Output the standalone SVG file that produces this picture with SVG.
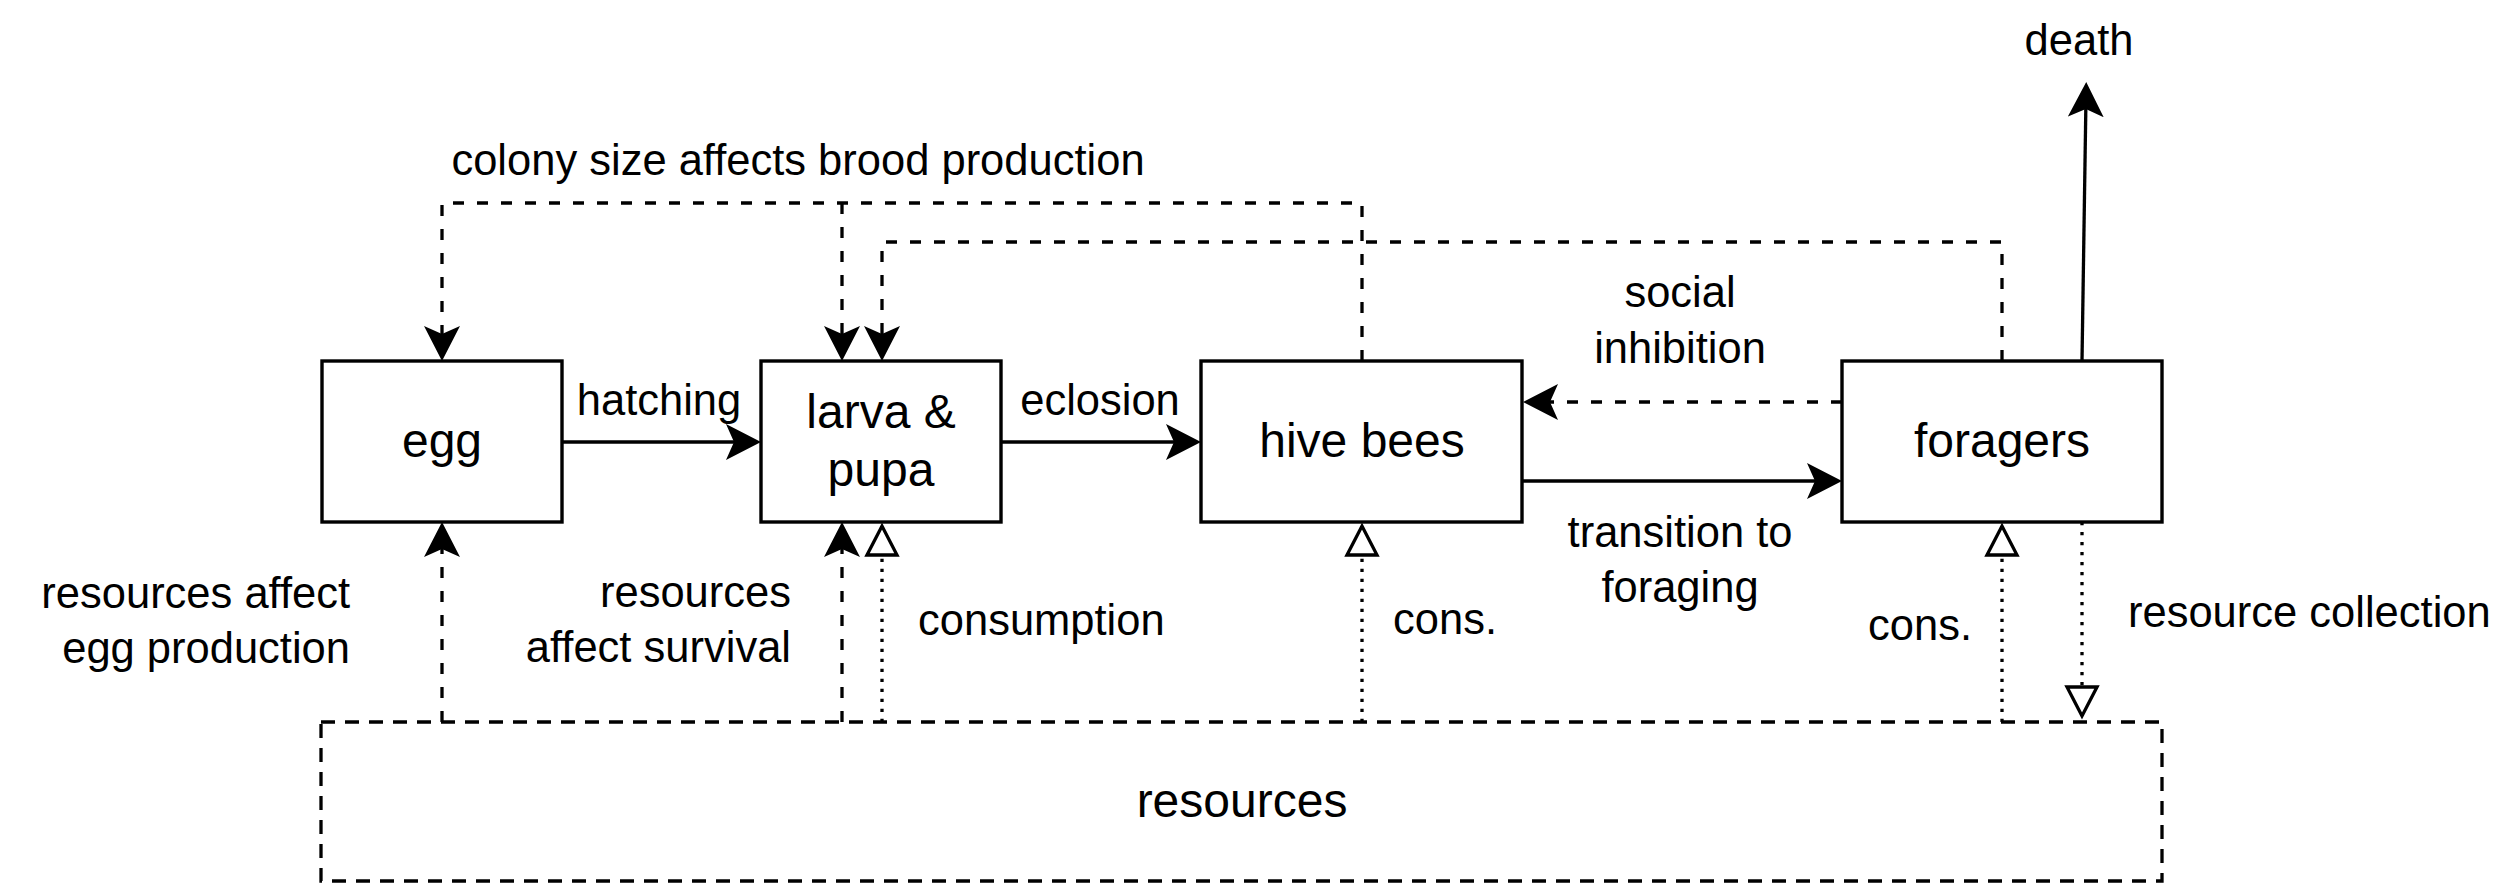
<svg xmlns="http://www.w3.org/2000/svg" width="2500" height="888" viewBox="0 0 2500 888">
<style>
text{font-family:"Liberation Sans",Arial,Helvetica,sans-serif;font-size:43.5px;fill:#000}
.nt{font-size:48px}
.node{fill:#fff;stroke:#000;stroke-width:3.4}
.res{fill:#fff;stroke:#000;stroke-width:3.3;stroke-dasharray:14 10}
.e{fill:none;stroke:#000;stroke-width:3.3}
.dash{stroke-dasharray:11 13}
.dot{stroke-dasharray:3.3 6.7}
.m{text-anchor:middle}
.r{text-anchor:end}
</style>
<defs>
<marker id="arr" viewBox="0 0 35 36" markerUnits="userSpaceOnUse" markerWidth="35" markerHeight="36" refX="20" refY="18" orient="auto">
<path d="M0,0 L35,18 L0,36 L8,18 Z" fill="#000" stroke="none"/>
</marker>
<marker id="tri" viewBox="-3 -3 36 36" markerUnits="userSpaceOnUse" markerWidth="36" markerHeight="36" refX="0" refY="15" orient="auto">
<path d="M0,0 L29,15 L0,30 Z" fill="#fff" stroke="#000" stroke-width="3.3" stroke-dasharray="none"/>
</marker>
</defs>
<rect width="2500" height="888" fill="#fff"/>
<g id="connectors">
<path class="e dash" d="M1362,361 V203 H442 V346" marker-end="url(#arr)"/>
<path class="e dash" d="M842,203 V346" marker-end="url(#arr)"/>
<path class="e dash" d="M2002,361 V242 H882 V346" marker-end="url(#arr)"/>
<path class="e" d="M562,442 H746" marker-end="url(#arr)"/>
<path class="e" d="M1001,442 H1186" marker-end="url(#arr)"/>
<path class="e dash" d="M1842,402 H1538" marker-end="url(#arr)"/>
<path class="e" d="M1522,481 H1827" marker-end="url(#arr)"/>
<path class="e" d="M2082,361 L2086,97" marker-end="url(#arr)"/>
<path class="e dash" d="M442,722 V537" marker-end="url(#arr)"/>
<path class="e dash" d="M842,722 V537" marker-end="url(#arr)"/>
<path class="e dot" d="M882,722 V555" marker-end="url(#tri)"/>
<path class="e dot" d="M1362,722 V555" marker-end="url(#tri)"/>
<path class="e dot" d="M2002,722 V555" marker-end="url(#tri)"/>
<path class="e dot" d="M2082,522 V687" marker-end="url(#tri)"/>
</g>
<g id="egg"><rect class="node" x="322" y="361" width="240" height="161"/><text class="m nt" x="442" y="457">egg</text></g>
<g id="larva"><rect class="node" x="761" y="361" width="240" height="161"/><text class="m nt" x="881" y="428">larva &amp;</text><text class="m nt" x="881" y="486">pupa</text></g>
<g id="hive"><rect class="node" x="1201" y="361" width="321" height="161"/><text class="m nt" x="1362" y="457">hive bees</text></g>
<g id="foragers"><rect class="node" x="1842" y="361" width="320" height="161"/><text class="m nt" x="2002" y="457">foragers</text></g>
<g id="resources"><rect class="res" x="321" y="722" width="1841" height="159"/><text class="m nt" x="1242" y="817">resources</text></g>
<g id="labels">
<text class="m" x="798" y="175">colony size affects brood production</text>
<text class="m" x="2079" y="55">death</text>
<text class="m" x="1680" y="307">social</text>
<text class="m" x="1680" y="363">inhibition</text>
<text class="m" x="659" y="415">hatching</text>
<text class="m" x="1100" y="415">eclosion</text>
<text class="m" x="1680" y="547">transition to</text>
<text class="m" x="1680" y="602">foraging</text>
<text class="r" x="350" y="608">resources affect</text>
<text class="r" x="350" y="663">egg production</text>
<text class="r" x="791" y="607">resources</text>
<text class="r" x="791" y="662">affect survival</text>
<text x="918" y="635">consumption</text>
<text x="1393" y="634">cons.</text>
<text class="r" x="1972" y="640">cons.</text>
<text x="2128" y="627">resource collection</text>
</g>
</svg>
